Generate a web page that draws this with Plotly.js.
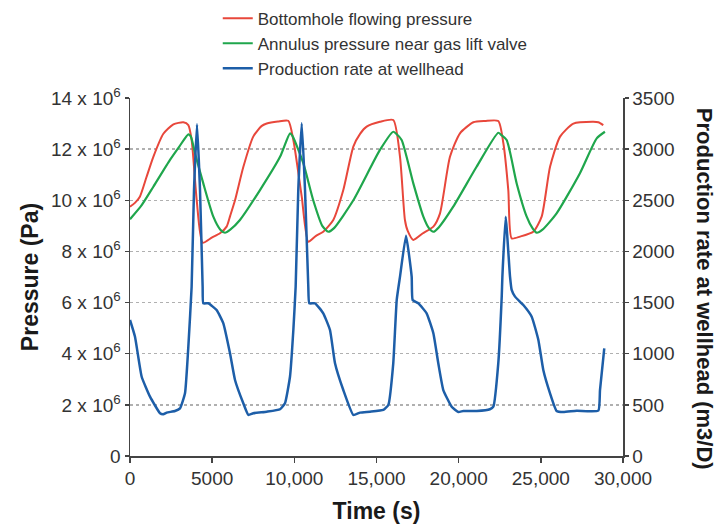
<!DOCTYPE html>
<html>
<head>
<meta charset="utf-8">
<script src="https://cdn.plot.ly/plotly-3.0.1.min.js"></script>
<style>html,body{margin:0;padding:0;background:#fff;}#chart{width:720px;height:528px;}</style>
</head>
<body>
<div id="chart"></div>
<script>
// ---- data ----
var seriesNames = ["Bottomhole flowing pressure", "Annulus pressure near gas lift valve", "Production rate at wellhead"];

var bhpTime = [0,300,600,1000,1420,2030,2640,3245,3550,3750,4060,4420,5000,5475,5880,6100,6390,6895,7500,8000,8320,9000,9630,9940,10450,10850,11300,11760,12370,12980,13590,14000,14400,15210,16020,16430,16730,16900,17240,17800,18460,18865,19470,20080,20890,21600,22410,22720,23020,23225,23730,24540,25050,25560,26170,26980,28190,28500,28800];
var bhpPa = [9.75e6,9.9e6,10.14e6,10.9e6,11.7e6,12.6e6,12.97e6,13.05e6,12.94e6,12.36e6,10.0e6,8.34e6,8.55e6,8.71e6,8.97e6,9.4e6,10.0e6,11.3e6,12.49e6,12.9e6,13.0e6,13.08e6,13.11e6,12.36e6,10.14e6,8.38e6,8.6e6,8.77e6,9.23e6,10.4e6,12.1e6,12.6e6,12.88e6,13.07e6,13.14e6,11.7e6,9.23e6,8.8e6,8.45e6,8.7e6,8.97e6,9.49e6,11.7e6,12.62e6,13.05e6,13.1e6,13.1e6,12.23e6,10.4e6,8.51e6,8.58e6,8.77e6,9.36e6,11.31e6,12.49e6,13.0e6,13.07e6,13.05e6,12.94e6];

var annTime = [0,700,1420,2434,3000,3550,3700,3955,4460,5070,5500,5780,6100,6690,7910,9130,9740,9900,10545,11150,11700,12070,12400,13590,15210,16020,16200,16530,17240,17850,18200,18460,18800,19670,21090,22410,22600,22920,23530,24140,24500,24750,25100,25960,27380,28400,28900];
var annPa = [9.26e6,9.8e6,10.53e6,11.58e6,12.1e6,12.58e6,12.5e6,11.84e6,10.66e6,9.36e6,8.85e6,8.73e6,8.85e6,9.23e6,10.4e6,11.7e6,12.62e6,12.5e6,11.45e6,10.0e6,9.0e6,8.77e6,8.9e6,10.0e6,11.97e6,12.68e6,12.6e6,12.36e6,10.66e6,9.36e6,8.9e6,8.77e6,8.95e6,9.75e6,11.31e6,12.64e6,12.55e6,12.36e6,10.66e6,9.36e6,8.9e6,8.73e6,8.85e6,9.49e6,11.06e6,12.42e6,12.68e6];

var rateTime = [0,304,710,1217,1826,2028,2230,2738,3043,3347,3550,3750,3895,4077,4260,4420,4460,4765,5270,5680,6085,6390,6895,7200,7500,8320,9130,9430,9735,9940,10080,10240,10450,10650,10850,10910,11260,11760,12170,12475,12980,13590,14000,14600,15415,15720,16020,16230,16430,16795,17140,17200,17545,18050,18460,18760,19065,19575,19980,20280,21100,21900,22110,22410,22620,22660,22860,23125,23225,23430,23935,24445,24850,25150,25560,25960,26370,27180,28500,28600,28860];
var rateM3D = [1330,1166,775,580,418,408,424,440,466,613,1069,1655,2600,3243,2600,1655,1493,1493,1427,1297,1004,743,515,401,418,433,457,515,775,1232,1655,2600,3253,2600,1655,1493,1493,1395,1232,906,645,401,424,433,450,499,906,1525,1753,2154,1753,1525,1493,1395,1200,906,645,482,430,440,440,457,482,906,1558,1753,2340,1753,1623,1558,1476,1362,1134,841,613,440,430,443,443,645,1053];

var pTickVals = [0,2e6,4e6,6e6,8e6,10e6,12e6,14e6];
var pTickText = ["0","2 x 10<sup>6</sup>","4 x 10<sup>6</sup>","6 x 10<sup>6</sup>","8 x 10<sup>6</sup>","10 x 10<sup>6</sup>","12 x 10<sup>6</sup>","14 x 10<sup>6</sup>"];
var rTickVals = [0,500,1000,1500,2000,2500,3000,3500];
var tTickVals = [0,5000,10000,15000,20000,25000,30000];
var tTickText = ["0","5000","10,000","15,000","20,000","25,000","30,000"];

var colors = ["#e8473b", "#1fa64c", "#1d5ea8"];
var FONT = "Liberation Sans, Arial, Helvetica, sans-serif";

var traces = [
  {x: bhpTime, y: bhpPa, name: seriesNames[0], type: "scatter", mode: "lines",
   line: {color: colors[0], width: 2, shape: "spline", smoothing: 0.6}, yaxis: "y"},
  {x: annTime, y: annPa, name: seriesNames[1], type: "scatter", mode: "lines",
   line: {color: colors[1], width: 2.2, shape: "spline", smoothing: 0.6}, yaxis: "y"},
  {x: rateTime, y: rateM3D, name: seriesNames[2], type: "scatter", mode: "lines",
   line: {color: colors[2], width: 2.5, shape: "spline", smoothing: 0.4}, yaxis: "y2"}
];

var layout = {
  width: 720, height: 528,
  margin: {l: 130, r: 97, t: 98, b: 72, pad: 0, autoexpand: false},
  paper_bgcolor: "#ffffff", plot_bgcolor: "#ffffff",
  font: {family: FONT, color: "#333333", size: 19},
  showlegend: true,
  legend: {x: 0.178, y: 1.272, xanchor: "left", yanchor: "top", orientation: "v",
           font: {family: FONT, size: 17, color: "#333333"}, bgcolor: "rgba(0,0,0,0)",
           itemwidth: 30, tracegroupgap: 0},
  xaxis: {range: [0, 30000], tickvals: tTickVals, ticktext: tTickText,
          showline: true, linecolor: "#444444", linewidth: 1.5, mirror: false,
          ticks: "outside", ticklen: 5, tickcolor: "#444444", tickwidth: 1.5,
          showgrid: false, zeroline: false, automargin: false,
          tickfont: {family: FONT, size: 19, color: "#333333"},
          title: {text: "Time (s)", font: {family: FONT, size: 23, color: "#1a1a1a", weight: "bold"}, standoff: 14}},
  yaxis: {range: [0, 14e6], tickvals: pTickVals, ticktext: pTickText,
          showline: true, linecolor: "#444444", linewidth: 1.5,
          ticks: "outside", ticklen: 4, tickcolor: "#444444", tickwidth: 1.5,
          showgrid: true, gridcolor: "#b0b0b0", gridwidth: 1.5, griddash: "dot",
          zeroline: false, automargin: false,
          tickfont: {family: FONT, size: 19, color: "#333333"},
          title: {text: "Pressure (Pa)", font: {family: FONT, size: 23, color: "#1a1a1a", weight: "bold"}, standoff: 6}},
  yaxis2: {range: [0, 3500], tickvals: rTickVals, overlaying: "y", side: "right",
           showline: true, linecolor: "#444444", linewidth: 1.5,
           ticks: "outside", ticklen: 4, tickcolor: "#444444", tickwidth: 1.5,
           showgrid: false, zeroline: false, automargin: false,
           tickfont: {family: FONT, size: 19, color: "#333333"}},
  annotations: [
    {text: "<b>Production rate at wellhead (m3/D)</b>", xref: "paper", yref: "paper",
     x: 1.165, y: 0.466, xanchor: "center", yanchor: "middle", textangle: 90, showarrow: false,
     font: {family: FONT, size: 22, color: "#1a1a1a"}}
  ]
};

Plotly.newPlot("chart", traces, layout, {displayModeBar: false, staticPlot: true});
</script>
</body>
</html>
